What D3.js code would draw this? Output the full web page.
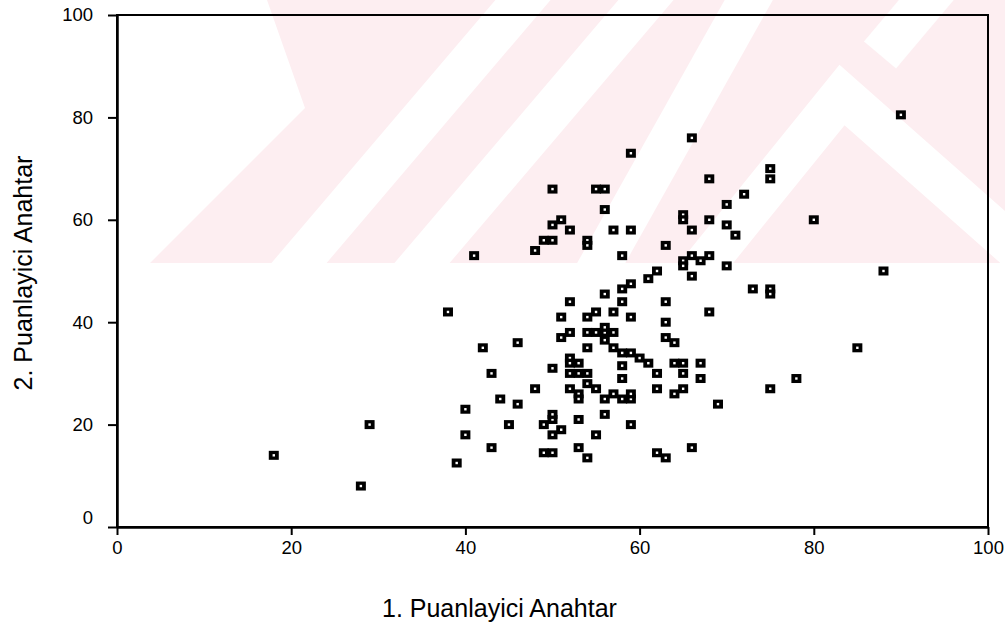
<!DOCTYPE html>
<html>
<head>
<meta charset="utf-8">
<script src="https://cdn.jsdelivr.net/npm/d3@7"></script>
<style>
  body { margin: 0; background: #fff; }
  text { font-family: "Liberation Sans", Arial, sans-serif; fill: #000; }
</style>
</head>
<body>
<svg id="chart" width="1005" height="627"></svg>
<script>
// 1. Puanlayici (x) and 2. Puanlayici (y), paired by index
var puan1 = [18, 28, 29, 39, 40, 40, 43, 45, 44, 46, 43, 42, 46, 38, 41,
	48, 49, 50, 51, 49, 50, 50, 50, 53, 53, 54, 55, 56, 59, 62, 63, 66,
	48, 49, 50, 50, 51, 52, 50, 55, 56, 56, 54, 54, 57, 59, 58, 59, 63, 62,
	65, 65, 65, 65, 66, 66, 67, 68, 66, 68, 68, 70, 70, 71, 72, 75, 75, 80, 90, 70,
	61, 66, 59, 58, 56, 52, 58, 63, 68, 55, 54, 57, 59, 51, 63, 52, 54, 55, 56, 57,
	56, 51, 56, 63, 64, 57, 54, 58, 59, 60, 61, 64, 65, 67, 58, 52, 52, 53, 50, 52,
	53, 54, 62, 65, 67, 58, 54, 55, 52, 62, 65, 64, 53, 53, 57, 58, 59, 59, 56, 69,
	73, 75, 75, 88, 85, 78, 75];
var puan2 = [14, 8, 20, 12.5, 18, 23, 15.5, 20, 25, 24, 30, 35, 36, 42, 53,
	27, 20, 18, 19, 14.5, 14.5, 21, 22, 21, 15.5, 13.5, 18, 22, 20, 14.5, 13.5, 15.5,
	54, 56, 56, 59, 60, 58, 66, 66, 66, 62, 56, 55, 58, 58, 53, 73, 55, 50,
	61, 60, 52, 51, 58, 53, 52, 53, 76, 68, 60, 63, 59, 57, 65, 70, 68, 60, 80.5, 51,
	48.5, 49, 47.5, 46.5, 45.5, 44, 44, 44, 42, 42, 41, 42, 41, 41, 40, 38, 38, 38, 38, 38,
	39, 37, 36.5, 37, 36, 35, 35, 34, 34, 33, 32, 32, 32, 32, 31.5, 33, 32, 32, 31, 30,
	30, 30, 30, 30, 29, 29, 28, 27, 27, 27, 27, 26, 26, 25, 26, 25, 25, 26, 25, 24,
	46.5, 46.5, 45.5, 50, 35, 29, 27];

var xTicks = [0, 20, 40, 60, 80, 100];
var yTicks = [0, 20, 40, 60, 80, 100];
var xTitle = "1. Puanlayici Anahtar";
var yTitle = "2. Puanlayici Anahtar";

var svg = d3.select("#chart");

var x = d3.scaleLinear().domain([0, 100]).range([117, 988]);
var y = d3.scaleLinear().domain([0, 100]).range([527, 15]);

// background watermark (pale chevrons across the upper part of the page)
var wm = svg.append("g").attr("class", "watermark");
wm.append("clipPath").attr("id", "wmclip")
	.append("polygon")
	.attr("points", "267,0 305,108 150,263 1005,263 1005,0");
var wmg = wm.append("g").attr("clip-path", "url(#wmclip)");
wmg.append("rect")
	.attr("x", 0).attr("y", 0).attr("width", 1005).attr("height", 263)
	.attr("fill", "#fdeef1");
var bands = [
	[[540, -20], [282, 283]],
	[[663, -20], [405, 283]],
	[[760, -20], [590, 283]],
	[[690, 283], [842, 95], [1040, 270]],
	[[880, 55], [960, -40]]
];
wmg.selectAll("polyline")
	.data(bands)
	.enter()
	.append("polyline")
	.attr("points", function(d) { return d.map(function(p) { return p.join(","); }).join(" "); })
	.attr("fill", "none")
	.attr("stroke", "#fff")
	.attr("stroke-width", 42);

// frame
svg.append("rect")
	.attr("x", x(0)).attr("y", y(100))
	.attr("width", x(100) - x(0)).attr("height", y(0) - y(100))
	.attr("fill", "none")
	.attr("stroke", "#000")
	.attr("stroke-width", 2);

var xAxis = svg.append("g")
	.attr("transform", "translate(0," + y(0) + ")")
	.call(d3.axisBottom(x).tickValues(xTicks).tickSize(8).tickSizeOuter(0).tickPadding(6));
var yAxis = svg.append("g")
	.attr("transform", "translate(" + x(0) + ",0)")
	.call(d3.axisLeft(y).tickValues(yTicks).tickSize(9).tickSizeOuter(0).tickPadding(15));

[xAxis, yAxis].forEach(function(a) {
	a.select(".domain").attr("stroke", "#000").attr("stroke-width", 2.5);
	a.selectAll(".tick line").attr("stroke", "#000").attr("stroke-width", 2);
	a.selectAll(".tick text")
		.style("font-family", '"Liberation Sans", Arial, sans-serif')
		.style("font-size", "18.5px")
		.attr("fill", "#000");
});
// the zero label on the y axis sits a little above its tick
yAxis.selectAll(".tick text").filter(function(d) { return d === 0; }).attr("y", -9);

// axis titles
svg.append("text")
	.attr("x", 382).attr("y", 617)
	.style("font-size", "25px")
	.text(xTitle);
svg.append("text")
	.attr("transform", "translate(32,273) rotate(-90)")
	.attr("text-anchor", "middle")
	.style("font-size", "25px")
	.text(yTitle);

// points: heavy black square with a small white centre
var pts = puan1.map(function(v, i) { return {x: v, y: puan2[i]}; });
var mk = svg.append("g").selectAll("g.pt")
	.data(pts)
	.enter()
	.append("g")
	.attr("class", "pt")
	.attr("transform", function(d) { return "translate(" + x(d.x) + "," + y(d.y) + ")"; });
mk.append("rect")
	.attr("x", -5).attr("y", -4.5)
	.attr("width", 10).attr("height", 9)
	.attr("fill", "#000");
mk.append("rect")
	.attr("x", -1.2).attr("y", -1.2)
	.attr("width", 2.4).attr("height", 2.4)
	.attr("fill", "#fff");
</script>
</body>
</html>
